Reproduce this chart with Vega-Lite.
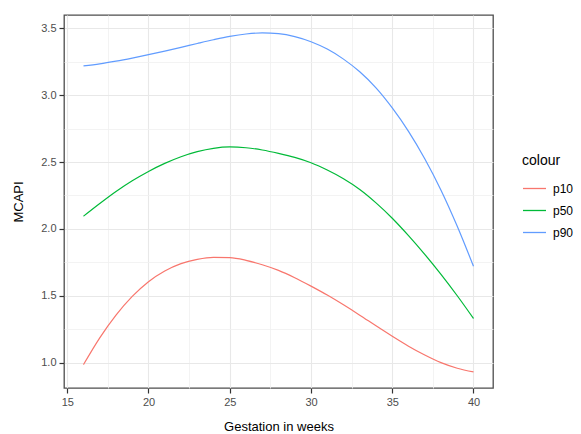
{
  "$schema": "https://vega.github.io/schema/vega-lite/v6.json",
  "autosize": "none",
  "width": 429,
  "height": 373,
  "padding": {"left": 64, "top": 15, "right": 88, "bottom": 46},
  "background": "white",
  "config": {
    "view": {"stroke": "#4d4d4d", "strokeWidth": 1.3},
    "font": "Liberation Sans"
  },
  "data": {
    "values": [
      {"week": 16, "colour": "p10", "value": 0.985},
      {"week": 17, "colour": "p10", "value": 1.185},
      {"week": 18, "colour": "p10", "value": 1.355},
      {"week": 19, "colour": "p10", "value": 1.495},
      {"week": 20, "colour": "p10", "value": 1.605},
      {"week": 21, "colour": "p10", "value": 1.685},
      {"week": 22, "colour": "p10", "value": 1.74},
      {"week": 23, "colour": "p10", "value": 1.772},
      {"week": 24, "colour": "p10", "value": 1.787},
      {"week": 25, "colour": "p10", "value": 1.785},
      {"week": 26, "colour": "p10", "value": 1.765},
      {"week": 27, "colour": "p10", "value": 1.732},
      {"week": 28, "colour": "p10", "value": 1.69},
      {"week": 29, "colour": "p10", "value": 1.635},
      {"week": 30, "colour": "p10", "value": 1.572},
      {"week": 31, "colour": "p10", "value": 1.505},
      {"week": 32, "colour": "p10", "value": 1.432},
      {"week": 33, "colour": "p10", "value": 1.355},
      {"week": 34, "colour": "p10", "value": 1.275},
      {"week": 35, "colour": "p10", "value": 1.197},
      {"week": 36, "colour": "p10", "value": 1.123},
      {"week": 37, "colour": "p10", "value": 1.057},
      {"week": 38, "colour": "p10", "value": 1.0},
      {"week": 39, "colour": "p10", "value": 0.958},
      {"week": 40, "colour": "p10", "value": 0.93},
      {"week": 16, "colour": "p50", "value": 2.095},
      {"week": 17, "colour": "p50", "value": 2.19},
      {"week": 18, "colour": "p50", "value": 2.28},
      {"week": 19, "colour": "p50", "value": 2.36},
      {"week": 20, "colour": "p50", "value": 2.43},
      {"week": 21, "colour": "p50", "value": 2.49},
      {"week": 22, "colour": "p50", "value": 2.54},
      {"week": 23, "colour": "p50", "value": 2.578},
      {"week": 24, "colour": "p50", "value": 2.603},
      {"week": 25, "colour": "p50", "value": 2.613},
      {"week": 26, "colour": "p50", "value": 2.607},
      {"week": 27, "colour": "p50", "value": 2.59},
      {"week": 28, "colour": "p50", "value": 2.565},
      {"week": 29, "colour": "p50", "value": 2.535},
      {"week": 30, "colour": "p50", "value": 2.495},
      {"week": 31, "colour": "p50", "value": 2.44},
      {"week": 32, "colour": "p50", "value": 2.375},
      {"week": 33, "colour": "p50", "value": 2.295},
      {"week": 34, "colour": "p50", "value": 2.195},
      {"week": 35, "colour": "p50", "value": 2.08},
      {"week": 36, "colour": "p50", "value": 1.95},
      {"week": 37, "colour": "p50", "value": 1.81},
      {"week": 38, "colour": "p50", "value": 1.66},
      {"week": 39, "colour": "p50", "value": 1.5},
      {"week": 40, "colour": "p50", "value": 1.33},
      {"week": 16, "colour": "p90", "value": 3.22},
      {"week": 17, "colour": "p90", "value": 3.235},
      {"week": 18, "colour": "p90", "value": 3.255},
      {"week": 19, "colour": "p90", "value": 3.278},
      {"week": 20, "colour": "p90", "value": 3.303},
      {"week": 21, "colour": "p90", "value": 3.33},
      {"week": 22, "colour": "p90", "value": 3.358},
      {"week": 23, "colour": "p90", "value": 3.387},
      {"week": 24, "colour": "p90", "value": 3.415},
      {"week": 25, "colour": "p90", "value": 3.44},
      {"week": 26, "colour": "p90", "value": 3.458},
      {"week": 27, "colour": "p90", "value": 3.466},
      {"week": 28, "colour": "p90", "value": 3.46},
      {"week": 29, "colour": "p90", "value": 3.438},
      {"week": 30, "colour": "p90", "value": 3.4},
      {"week": 31, "colour": "p90", "value": 3.345},
      {"week": 32, "colour": "p90", "value": 3.27},
      {"week": 33, "colour": "p90", "value": 3.175},
      {"week": 34, "colour": "p90", "value": 3.055},
      {"week": 35, "colour": "p90", "value": 2.905},
      {"week": 36, "colour": "p90", "value": 2.73},
      {"week": 37, "colour": "p90", "value": 2.525},
      {"week": 38, "colour": "p90", "value": 2.29},
      {"week": 39, "colour": "p90", "value": 2.02},
      {"week": 40, "colour": "p90", "value": 1.72}
    ]
  },
  "layer": [
    {
      "mark": {"type": "line", "opacity": 0},
      "encoding": {
        "x": {
          "field": "week", "type": "quantitative",
          "scale": {"domain": [14.8, 41.2], "nice": false, "zero": false},
          "axis": {"orient": "top", "values": [17.5, 22.5, 27.5, 32.5, 37.5], "grid": true, "gridColor": "#f0f0f0", "gridWidth": 0.8, "labels": false, "ticks": false, "domain": false, "title": null}
        },
        "y": {
          "field": "value", "type": "quantitative",
          "scale": {"domain": [0.81, 3.6], "nice": false, "zero": false},
          "axis": {"orient": "right", "values": [1.25, 1.75, 2.25, 2.75, 3.25], "grid": true, "gridColor": "#f0f0f0", "gridWidth": 0.8, "labels": false, "ticks": false, "domain": false, "title": null}
        },
        "detail": {"field": "colour"}
      }
    },
    {
      "mark": {"type": "line", "strokeWidth": 1.2, "interpolate": "monotone"},
      "encoding": {
        "x": {
          "field": "week", "type": "quantitative",
          "axis": {
            "orient": "bottom", "values": [15, 20, 25, 30, 35, 40], "grid": true, "gridColor": "#e8e8e8", "gridWidth": 1.1,
            "domain": false, "tickColor": "#333333", "tickSize": 5, "tickWidth": 1.2,
            "labelColor": "#4d4d4d", "labelFontSize": 11, "labelPadding": 3,
            "title": "Gestation in weeks", "titleFontSize": 13, "titleFontWeight": "normal", "titleColor": "#000000", "titlePadding": 13
          }
        },
        "y": {
          "field": "value", "type": "quantitative",
          "axis": {
            "orient": "left", "values": [1.0, 1.5, 2.0, 2.5, 3.0, 3.5], "format": ".1f", "grid": true, "gridColor": "#e8e8e8", "gridWidth": 1.1,
            "domain": false, "tickColor": "#333333", "tickSize": 5, "tickWidth": 1.2,
            "labelColor": "#4d4d4d", "labelFontSize": 11, "labelPadding": 3,
            "title": "MCAPI", "titleFontSize": 13, "titleFontWeight": "normal", "titleColor": "#000000", "titlePadding": 15
          }
        },
        "color": {
          "field": "colour", "type": "nominal",
          "scale": {"domain": ["p10", "p50", "p90"], "range": ["#F8766D", "#00BA38", "#619CFF"]},
          "legend": {
            "orient": "none", "legendX": 458, "legendY": 139,
            "title": "colour", "titleFontSize": 14, "titleFontWeight": "normal", "titleColor": "#000000", "titlePadding": 8,
            "symbolType": "stroke", "symbolSize": 529, "symbolStrokeWidth": 1.3,
            "labelFontSize": 12, "labelColor": "#000000", "labelOffset": 6, "rowPadding": 3
          }
        }
      }
    }
  ],
  "resolve": {"axis": {"x": "independent", "y": "independent"}}
}
